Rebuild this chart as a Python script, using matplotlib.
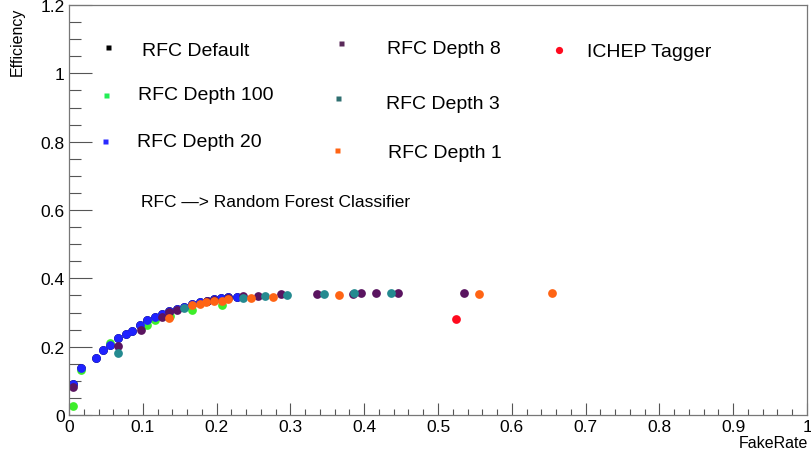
import matplotlib.pyplot as plt
from matplotlib.ticker import MultipleLocator

plt.rcParams['font.family'] = ['Liberation Sans', 'DejaVu Sans']

# Data
depth20_x = [0.006, 0.016, 0.037, 0.046, 0.056, 0.067, 0.077, 0.086, 0.096, 0.106, 0.117,
             0.126, 0.136, 0.146, 0.156, 0.166, 0.177, 0.187, 0.196, 0.206, 0.216, 0.227]
depth20_y = [0.091, 0.138, 0.167, 0.189, 0.206, 0.225, 0.237, 0.247, 0.264, 0.277, 0.287,
             0.296, 0.303, 0.309, 0.316, 0.326, 0.331, 0.334, 0.340, 0.342, 0.344, 0.345]

# default RFC is hidden beneath depth 20 in the picture
default_x = depth20_x
default_y = depth20_y

depth100_x = [0.006, 0.016, 0.056, 0.106, 0.116, 0.137, 0.166, 0.207]
depth100_y = [0.027, 0.133, 0.211, 0.264, 0.277, 0.291, 0.306, 0.321]

depth8_x = [0.006, 0.067, 0.097, 0.126, 0.136, 0.146, 0.187, 0.196, 0.216, 0.236, 0.256,
            0.287, 0.336, 0.385, 0.396, 0.416, 0.446, 0.535]
depth8_y = [0.083, 0.203, 0.250, 0.286, 0.301, 0.306, 0.333, 0.338, 0.343, 0.347, 0.348,
            0.354, 0.355, 0.355, 0.356, 0.357, 0.356, 0.357]

depth3_x = [0.067, 0.156, 0.236, 0.266, 0.296, 0.346, 0.386, 0.436]
depth3_y = [0.182, 0.312, 0.342, 0.347, 0.352, 0.355, 0.357, 0.358]

depth1_x = [0.136, 0.166, 0.177, 0.186, 0.196, 0.207, 0.216, 0.246, 0.276, 0.366, 0.555, 0.655]
depth1_y = [0.283, 0.321, 0.326, 0.331, 0.334, 0.335, 0.340, 0.343, 0.345, 0.350, 0.355, 0.358]

ichep_x = [0.525]
ichep_y = [0.282]

W, H = 811, 456
fig = plt.figure(figsize=(W / 100, H / 100), dpi=100)
ax = fig.add_axes([69 / W, 1 - 416 / H, (807 - 69) / W, (416 - 6) / H])

ms = 6.3
series = [
    (default_x, default_y, 'black'),
    (depth100_x, depth100_y, '#3dee2a'),
    (depth20_x, depth20_y, '#1f22ff'),
    (depth8_x, depth8_y, '#5a1460'),
    (depth3_x, depth3_y, '#248a90'),
    (depth1_x, depth1_y, '#ff6414'),
    (ichep_x, ichep_y, '#ff0a1e'),
]
for xs, ys, col in series:
    ax.plot(xs, ys, 'o', color=col, ms=ms, mec='none', ls='none')

ax.set_xlim(0, 1)
ax.set_ylim(0, 1.2)
ax.xaxis.set_major_locator(MultipleLocator(0.1))
ax.xaxis.set_minor_locator(MultipleLocator(0.02))
ax.yaxis.set_major_locator(MultipleLocator(0.2))
ax.yaxis.set_minor_locator(MultipleLocator(0.05))
ax.xaxis.set_major_formatter(plt.FuncFormatter(lambda v, p: '%g' % round(v, 2)))
ax.yaxis.set_major_formatter(plt.FuncFormatter(lambda v, p: '%g' % round(v, 2)))

ax.tick_params(axis='x', which='major', direction='in', length=8.6, width=0.8,
               color='#555555', labelsize=12.5, pad=3)
ax.tick_params(axis='x', which='minor', direction='in', length=4.3, width=0.8, color='#555555')
ax.tick_params(axis='y', which='major', direction='in', length=16.5, width=0.8,
               color='#555555', labelsize=12.5, pad=3)
ax.tick_params(axis='y', which='minor', direction='in', length=8.6, width=0.8, color='#555555')
for s in ax.spines.values():
    s.set_color('#777777')
    s.set_linewidth(0.9)


def px(x, y):
    return x / W, 1 - y / H


fig.text(*px(17, 8), 'Efficiency', rotation=90, ha='center', va='top', fontsize=11.5)
fig.text(*px(808, 448), 'FakeRate', ha='right', va='baseline', fontsize=11.5)

# hand-placed legend
legend = [
    (107.7, 48.3, 'black', 141.5, 55.7, 'RFC Default'),
    (106, 96, '#22ee55', 137.7, 100, 'RFC Depth 100'),
    (105.3, 141.7, '#2a2aff', 137.3, 146.7, 'RFC Depth 20'),
    (341, 44.3, '#5a2a5a', 386.7, 54.3, 'RFC Depth 8'),
    (337.7, 99.3, '#2f6f70', 386, 109, 'RFC Depth 3'),
    (336.7, 151, '#ff6414', 387.7, 157.7, 'RFC Depth 1'),
]
for mx, my, col, tx, ty, label in legend:
    fig.lines.append(plt.Line2D([mx / W], [1 - my / H], marker='s', ms=3.6, color=col,
                                mec='none', ls='none', transform=fig.transFigure))
    fig.text(*px(tx, ty), label, ha='left', va='baseline', fontsize=14)

fig.lines.append(plt.Line2D([559.3 / W], [1 - 51 / H], marker='o', ms=5.2, color='#ff0a1e',
                            mec='none', ls='none', transform=fig.transFigure))
fig.text(*px(586.7, 57.3), 'ICHEP Tagger', ha='left', va='baseline', fontsize=14)

fig.text(*px(141, 207.3), 'RFC —> Random Forest Classifier', ha='left', va='baseline',
         fontsize=12.5)

fig.savefig('out.png', dpi=100)
